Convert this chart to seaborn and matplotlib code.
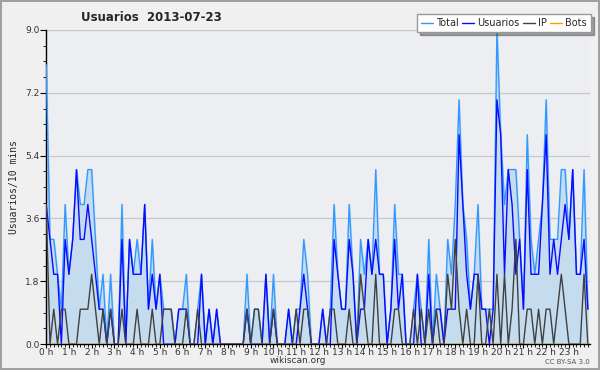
import numpy as np
import pandas as pd
import seaborn as sns
import matplotlib.pyplot as plt
from matplotlib.ticker import MultipleLocator

# users and IP edits per 10-minute slot (144 slots), bots all zero
usuarios = [4, 3, 2, 2, 0, 3, 2, 3, 5, 3, 3, 4, 3, 2, 1, 1, 0, 1, 0, 0, 3, 0, 3, 2,
            2, 2, 4, 1, 2, 1, 2, 0, 0, 0, 0, 1, 1, 1, 0, 0, 0, 2, 0, 1, 0, 1, 0, 0,
            0, 0, 0, 0, 0, 1, 0, 0, 0, 0, 2, 0, 1, 0, 0, 0, 1, 0, 0, 1, 2, 1, 0, 0,
            0, 1, 0, 0, 3, 2, 1, 1, 3, 2, 0, 1, 1, 3, 2, 3, 2, 2, 0, 1, 3, 1, 2, 0,
            0, 0, 2, 0, 0, 2, 0, 1, 1, 0, 1, 1, 1, 6, 4, 2, 1, 2, 2, 1, 1, 0, 1, 7,
            6, 2, 5, 4, 2, 3, 1, 5, 2, 2, 2, 4, 6, 2, 3, 2, 3, 4, 3, 5, 2, 2, 3, 1]
ip = [4, 0, 1, 0, 1, 1, 0, 0, 0, 1, 1, 1, 2, 1, 0, 1, 0, 1, 0, 0, 1, 0, 0, 0,
      1, 0, 0, 0, 1, 0, 0, 1, 1, 1, 0, 0, 0, 1, 0, 0, 1, 0, 0, 0, 0, 0, 0, 0,
      0, 0, 0, 0, 0, 1, 0, 1, 1, 0, 0, 0, 1, 0, 0, 0, 0, 0, 1, 0, 1, 1, 0, 0,
      0, 0, 0, 1, 1, 0, 0, 0, 1, 0, 0, 2, 1, 0, 0, 2, 0, 0, 0, 0, 1, 1, 0, 0,
      0, 1, 0, 1, 0, 1, 0, 1, 0, 0, 2, 1, 3, 1, 0, 1, 0, 0, 2, 0, 0, 1, 0, 2,
      0, 2, 0, 1, 3, 0, 0, 1, 1, 0, 1, 0, 1, 1, 0, 1, 2, 1, 0, 0, 0, 0, 2, 0]
bots = [0] * 144
hour_labels = [f"{h} h" for h in range(24)]

df = pd.DataFrame({
    'hora': np.arange(len(usuarios)) / 6,
    'Usuarios': usuarios,
    'IP': ip,
    'Bots': bots,
})
df['Total'] = df['Usuarios'] + df['IP'] + df['Bots']

sns.set_style("white")
fig = plt.figure(figsize=(6, 3.7), dpi=100, facecolor='#f0f0f0',
                 edgecolor='#a0a0a0', linewidth=1.5)
ax = fig.add_axes([0.077, 0.07, 0.906, 0.849])
ax.set_facecolor('#eceef1')

ax.fill_between(df['hora'], df['Total'], color='#c5dcef', zorder=1)
colors = {'Total': '#3399ff', 'Usuarios': '#0a0aff', 'IP': '#404040', 'Bots': '#ff9900'}
for name in ['Total', 'Usuarios', 'IP', 'Bots']:
    sns.lineplot(data=df, x='hora', y=name, ax=ax, color=colors[name],
                 linewidth=1, label=name, zorder=3, legend=False)

ax.set_xlim(0, 23.92)
ax.set_ylim(0, 9)
ax.set_yticks(np.arange(0, 9.01, 1.8))
ax.set_yticklabels([f"{v:.1f}" for v in np.arange(0, 9.01, 1.8)])
ax.yaxis.set_minor_locator(MultipleLocator(0.45))
ax.set_xticks(range(24))
ax.set_xticklabels(hour_labels)
ax.xaxis.set_minor_locator(MultipleLocator(1 / 6))
ax.tick_params(axis='y', which='major', labelsize=6.5, length=4, width=0.8,
               direction='out', color='black', pad=1, left=True)
ax.tick_params(axis='x', which='major', labelsize=6.5, length=3, width=0.8,
               direction='out', color='black', pad=0, bottom=True)
ax.tick_params(axis='both', which='minor', length=2.5, width=0.6, color='black',
               left=True, bottom=True)
for lab in ax.get_xticklabels() + ax.get_yticklabels():
    lab.set_color('#333333')

ax.grid(axis='y', color='#c8c8c8', linewidth=0.9)
ax.set_axisbelow(True)
for side in ['top', 'right']:
    ax.spines[side].set_visible(False)
for side in ['left', 'bottom']:
    ax.spines[side].set_color('black')
    ax.spines[side].set_linewidth(1)

ax.set_xlabel('')
ax.set_ylabel('Usuarios/10 mins', fontsize=7, family='DejaVu Sans Mono', labelpad=4)

fig.text(0.253, 0.952, 'Usuarios  2013-07-23', fontsize=8.5, fontweight='bold',
         ha='center', va='center')
fig.text(0.497, 0.025, 'wikiscan.org', fontsize=6.5, color='#333333',
         ha='center', va='center')
fig.text(0.983, 0.022, 'CC BY-SA 3.0', fontsize=5, color='#555555',
         ha='right', va='center')

handles, labels = ax.get_legend_handles_labels()
leg = fig.legend(handles, labels, ncol=4, loc='upper right',
                 bbox_to_anchor=(0.985, 0.962), fontsize=7, frameon=True,
                 fancybox=False, shadow=True, handlelength=1.2, handletextpad=0.35,
                 columnspacing=0.35, borderpad=0.4, borderaxespad=0)
leg.get_frame().set_edgecolor('#999999')
leg.get_frame().set_facecolor('white')
leg.get_frame().set_alpha(1)

fig.savefig('out.png', dpi=100)
